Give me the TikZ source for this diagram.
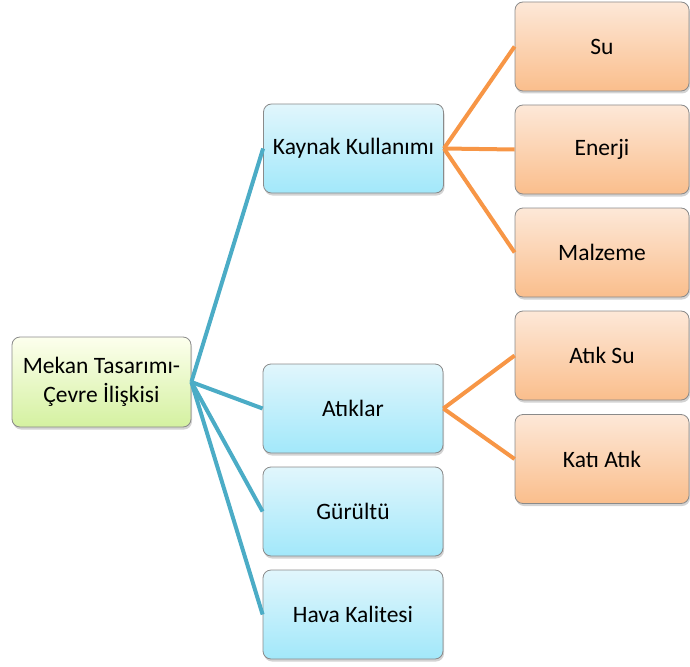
\documentclass[tikz,border=0pt]{standalone}
\usepackage{fontspec}
\setmainfont{Carlito}
\usetikzlibrary{shadows}

\definecolor{blueline}{HTML}{4BACC6}
\definecolor{orangeline}{HTML}{F79646}
\definecolor{boxborder}{HTML}{8A8A8A}

\begin{document}
\begin{tikzpicture}[x=1pt,y=1pt,
    every node/.style={font=\fontsize{23.5}{29}\selectfont, align=center, inner sep=0pt},
    box/.style={draw=boxborder, line width=0.8pt, rounded corners=8pt,
        drop shadow={opacity=0.35, shadow xshift=1pt, shadow yshift=-2.5pt}},
    rootbox/.style={box, minimum width=179pt, minimum height=90pt,
        top color=green!6!white!70!yellow!20, bottom color={rgb,255:red,212;green,241;blue,160}},
    bluebox/.style={box, minimum width=180pt, minimum height=89pt,
        top color={rgb,255:red,225;green,246;blue,252}, bottom color={rgb,255:red,162;green,232;blue,250}},
    orangebox/.style={box, minimum width=174pt, minimum height=89pt,
        top color={rgb,255:red,253;green,232;blue,216}, bottom color={rgb,255:red,250;green,190;blue,140}},
    blueedge/.style={draw=blueline, line width=4pt},
    orangeedge/.style={draw=orangeline, line width=4pt}]
    \useasboundingbox (0,0) rectangle (690,-666);
    % left part
    \node [rootbox] (root) at (101.5,-382) {Mekan Tasarımı-\\Çevre İlişkisi};
    \node [bluebox] (kaynak) at (353.5,-148.5) {Kaynak Kullanımı};
    \node [bluebox] (atiklar) at (353,-408.5) {Atıklar};
    \node [bluebox] (gurultu) at (353,-511.5) {Gürültü};
    \node [bluebox] (hava) at (353,-614.5) {Hava Kalitesi};
    % right part
    \node [orangebox] (su) at (602,-46.5) {Su};
    \node [orangebox] (enerji) at (602,-149.5) {Enerji};
    \node [orangebox] (malzeme) at (602,-252.5) {Malzeme};
    \node [orangebox] (atiksu) at (602,-355.5) {Atık Su};
    \node [orangebox] (katiatik) at (602,-459) {Katı Atık};
    % connectors
    \draw [blueedge] (root.east) -- (kaynak.west);
    \draw [blueedge] (root.east) -- (atiklar.west);
    \draw [blueedge] (root.east) -- (gurultu.west);
    \draw [blueedge] (root.east) -- (hava.west);
    \draw [orangeedge] (kaynak.east) -- (su.west);
    \draw [orangeedge] (kaynak.east) -- (enerji.west);
    \draw [orangeedge] (kaynak.east) -- (malzeme.west);
    \draw [orangeedge] (atiklar.east) -- (atiksu.west);
    \draw [orangeedge] (atiklar.east) -- (katiatik.west);
\end{tikzpicture}
\end{document}
